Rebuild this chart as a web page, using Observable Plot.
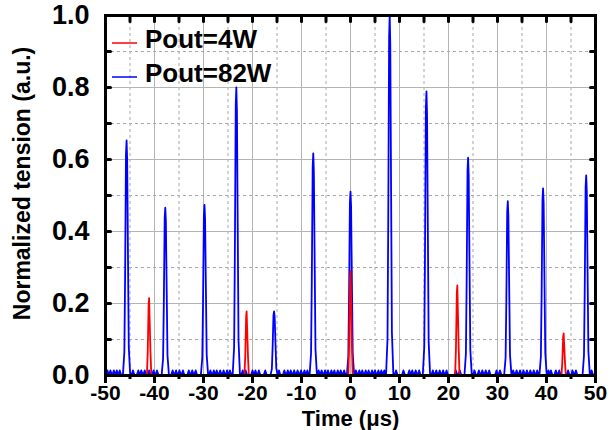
<!DOCTYPE html>
<html>
<head>
<meta charset="utf-8">
<script src="https://cdn.jsdelivr.net/npm/d3@7"></script>
<script src="https://cdn.jsdelivr.net/npm/@observablehq/plot@0.6"></script>
<style>
  html, body { margin: 0; padding: 0; background: #fff; }
  #wrap { position: relative; width: 616px; height: 430px; }
  #legend { position: absolute; left: 0; top: 0; pointer-events: none; }
  svg text { font-family: "Liberation Sans", Arial, sans-serif; font-weight: bold; }
</style>
</head>
<body>
<div id="wrap"></div>
<script>
// ---- data ----
const seriesNames = ["Pout=4W", "Pout=82W"];
const seriesColors = ["#ff0000", "#0000ff"];

// blue (Pout=82W) pulse centres (µs) and peak heights
const bluePeakT = [-45.7, -37.8, -29.8, -23.3, -15.6, -7.6, 0.0, 8.0, 15.5, 24.0, 32.1, 39.3, 48.1];
const bluePeakV = [0.653, 0.466, 0.474, 0.800, 0.178, 0.617, 0.511, 1.000, 0.789, 0.605, 0.484, 0.520, 0.556];

// red (Pout=4W) pulse centres and peak heights
const redPeakT = [-41.1, -21.2, 0.0, 21.8, 43.5];
const redPeakV = [0.215, 0.178, 0.290, 0.250, 0.117];

// pulse shapes (offset in µs, relative height)
const blueShapeDt = [-0.75, -0.45, -0.3, -0.12, 0, 0.12, 0.3, 0.45, 0.75];
const blueShapeRel = [0, 0.10, 0.42, 0.94, 1, 0.92, 0.48, 0.12, 0];
const redShapeDt = [-0.45, -0.28, -0.1, 0, 0.1, 0.28, 0.45];
const redShapeRel = [0, 0.30, 0.92, 1, 0.75, 0.30, 0];

// small baseline ripple bumps of the blue trace (µs)
const rippleT = [
  -49.6, -49.0, -48.3, -47.7, -47.1,
  -44.4, -43.3, -42.7, -42.0, -41.1, -40.2, -39.5,
  -36.3, -35.6, -34.9, -34.2, -33.0, -32.3, -31.6,
  -28.6, -27.9, -27.3, -26.6, -25.9, -25.2, -24.6,
  -22.0, -21.4, -20.0, -19.4, -18.7, -17.4,
  -14.6, -13.5, -12.8, -12.2, -11.5, -10.8, -10.1, -9.4, -8.8,
  -6.5, -5.9, -5.2, -4.6, -3.9, -3.3, -2.6, -2.0, -1.3,
  1.1, 1.8, 2.4, 3.1, 3.7, 4.4, 5.0, 5.7, 6.3, 6.9,
  9.3, 10.8, 12.0, 12.6, 13.3, 14.0,
  16.8, 17.5, 18.2, 18.9, 19.6, 21.5, 22.3,
  25.3, 26.2, 26.9, 27.6, 28.3, 29.8, 30.5,
  33.2, 33.9, 34.6, 35.3, 36.0, 36.7, 37.4, 38.1,
  40.4, 40.9, 41.9, 42.6, 44.4, 45.3, 46.0,
  49.2
];
const rippleV = 0.014;
const rippleDt = [-0.3, 0, 0.3];
const rippleRel = [0.1, 1, 0.1];

// axis ticks
const xMajor = [-50, -40, -30, -20, -10, 0, 10, 20, 30, 40, 50];
const xMinor = [-45, -35, -25, -15, -5, 5, 15, 25, 35, 45];
const yMajor = [0, 0.2, 0.4, 0.6, 0.8, 1.0];
const yMinor = [0.1, 0.3, 0.5, 0.7, 0.9];

// ---- build traces ----
function buildTrace(peakT, peakV, dts, rels, ripT) {
  const pts = [{t: -50, v: 0}, {t: 50, v: 0}];
  peakT.forEach((t, i) => dts.forEach((dt, j) => pts.push({t: t + dt, v: peakV[i] * rels[j]})));
  if (ripT) {
    ripT.filter(r => peakT.every(p => Math.abs(p - r) > 0.95))
      .forEach(r => rippleDt.forEach((dt, j) => pts.push({t: r + dt, v: rippleV * rippleRel[j]})));
  }
  return pts.sort((a, b) => a.t - b.t);
}
const blue = buildTrace(bluePeakT, bluePeakV, blueShapeDt, blueShapeRel, rippleT);
const red = buildTrace(redPeakT, redPeakV, redShapeDt, redShapeRel, null);

// straight tick shape for vector marks (drawn upward, rotated as needed)
const tickShape = {draw(ctx, l) { ctx.moveTo(0, 0); ctx.lineTo(0, -l); }};
const xAll = xMajor.concat(xMinor);
const yAll = yMajor.concat(yMinor);

const chart = Plot.plot({
  width: 616,
  height: 430,
  marginLeft: 105,
  marginRight: 21,
  marginTop: 15,
  marginBottom: 55,
  style: {fontFamily: "'Liberation Sans', Arial, sans-serif", fontWeight: "bold", color: "#000", background: "#fff"},
  x: {domain: [-50, 50]},
  y: {domain: [0, 1]},
  marks: [
    Plot.ruleX(xMinor, {x: d => d, stroke: "#a8a8a8", strokeDasharray: "3,3"}),
    Plot.ruleX(xMajor, {x: d => d, stroke: "#b4b4b4"}),
    Plot.ruleY(yMinor, {y: d => d, stroke: "#a8a8a8", strokeDasharray: "3,3"}),
    Plot.ruleY(yMajor, {y: d => d, stroke: "#b4b4b4"}),
    Plot.line(blue, {x: "t", y: "v", stroke: seriesColors[1], strokeWidth: 1.8, clip: true}),
    Plot.line(red, {x: "t", y: "v", stroke: seriesColors[0], strokeWidth: 1.8, clip: true}),
    // bottom axis: outward ticks with labels
    Plot.axisX(xMajor, {anchor: "bottom", tickSize: 8, tickPadding: 2, strokeWidth: 3, fontSize: 21, label: null, tickFormat: d => d}),
    Plot.axisX(xMinor, {anchor: "bottom", tickSize: 4, strokeWidth: 3, text: null, label: null}),
    // top axis: inward ticks
    Plot.vector(xAll, {x: d => d, frameAnchor: "top", length: 6, rotate: 180, anchor: "start", shape: tickShape, stroke: "#000", strokeWidth: 3}),
    // left axis: labels + inward ticks
    Plot.axisY(yMajor, {anchor: "left", tickSize: 0, tickPadding: 16, fontSize: 27, label: null, tickFormat: d3.format(".1f")}),
    Plot.vector(yAll, {y: d => d, frameAnchor: "left", length: 5, rotate: 90, anchor: "start", shape: tickShape, stroke: "#000", strokeWidth: 3}),
    // right axis: inward ticks
    Plot.vector(yAll, {y: d => d, frameAnchor: "right", length: 5, rotate: -90, anchor: "start", shape: tickShape, stroke: "#000", strokeWidth: 3}),
    Plot.frame({stroke: "#000", strokeWidth: 3}),
    Plot.text(["Normalized tension (a.u.)"], {frameAnchor: "left", textAnchor: "middle", rotate: -90, dx: -83, dy: -12, fontSize: 23, fontWeight: "bold", fill: "#000"}),
    Plot.text(["Time (μs)"], {frameAnchor: "bottom", lineAnchor: "bottom", dy: 50, fontSize: 22, fontWeight: "bold", fill: "#000"})
  ]
});

const wrap = document.getElementById("wrap");
wrap.appendChild(chart);

// legend overlay (inside the plot, top-left)
const ns = "http://www.w3.org/2000/svg";
const leg = document.createElementNS(ns, "svg");
leg.setAttribute("id", "legend");
leg.setAttribute("width", 300);
leg.setAttribute("height", 100);
const legRows = [43, 77];
seriesNames.forEach((name, i) => {
  const ln = document.createElementNS(ns, "line");
  ln.setAttribute("x1", 112); ln.setAttribute("x2", 137);
  ln.setAttribute("y1", legRows[i]); ln.setAttribute("y2", legRows[i]);
  ln.setAttribute("stroke", seriesColors[i]);
  ln.setAttribute("stroke-width", 1.5);
  leg.appendChild(ln);
  const tx = document.createElementNS(ns, "text");
  tx.setAttribute("x", 145);
  tx.setAttribute("y", legRows[i] + 5);
  tx.setAttribute("font-size", 26);
  tx.setAttribute("fill", "#000");
  tx.textContent = name;
  leg.appendChild(tx);
});
wrap.appendChild(leg);
</script>
</body>
</html>
